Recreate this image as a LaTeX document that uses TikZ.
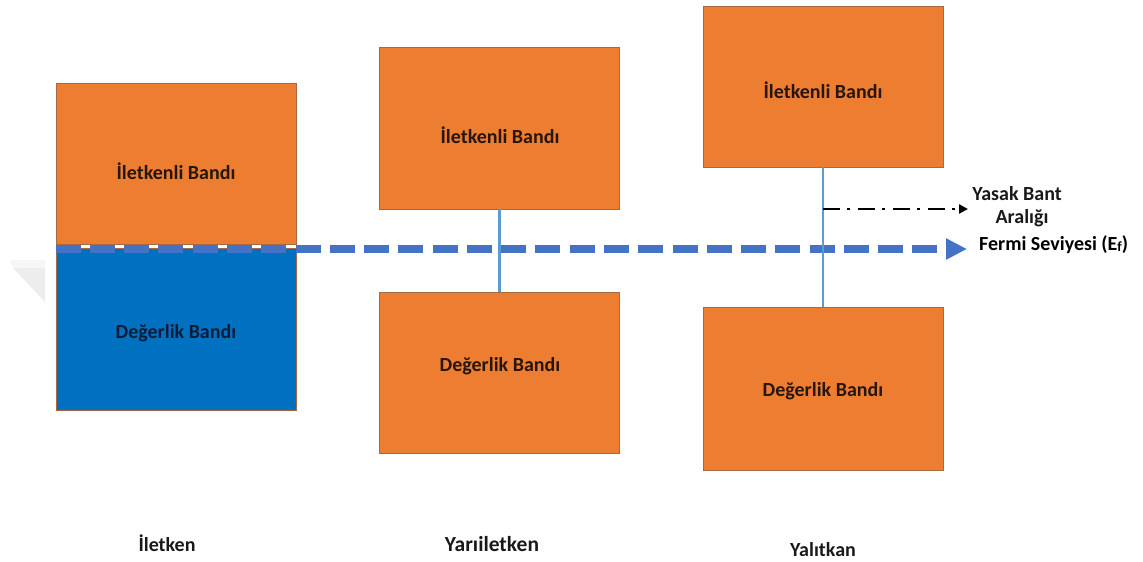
\documentclass[tikz,border=0pt]{standalone}
\usepackage{fontspec}
\setmainfont{Carlito}
\usetikzlibrary{arrows.meta}

\definecolor{bandorange}{HTML}{ED7D31}
\definecolor{bandblue}{HTML}{0070C0}
\definecolor{bandedge}{RGB}{165,105,70}
\definecolor{fermiblue}{HTML}{4472C4}
\definecolor{gapline}{HTML}{5B9BD5}
\definecolor{darktext}{RGB}{38,22,12}
\definecolor{navytext}{RGB}{14,28,58}
\definecolor{markgrey}{HTML}{EDEDED}
\definecolor{marklight}{HTML}{F6F6F6}

\tikzset{
  band/.style={draw=bandedge, line width=0.7pt, inner sep=0pt,
               minimum width=240pt},
  cband/.style={band, fill=bandorange},
  vband/.style={band, fill=bandblue},
  bandlabel/.style={anchor=base, inner sep=0pt, text=darktext,
                    font=\fontsize{20}{24}\selectfont\bfseries},
  sidelabel/.style={anchor=base west, inner sep=0pt, text=black,
                    font=\fontsize{20}{24}\selectfont\bfseries},
  kindlabel/.style={anchor=base, inner sep=0pt, text=black!90,
                    font=\fontsize{20}{24}\selectfont\bfseries},
  fermiline/.style={draw=fermiblue, line width=8.5pt,
                    dash pattern=on 25pt off 9.27pt,
                    -{Triangle[length=21pt,width=20pt]}},
  gapconn/.style={draw=gapline, line width=2.5pt},
  gaparrow/.style={draw=black, line width=2.4pt,
                   dash pattern=on 17pt off 7pt on 3pt off 8pt,
                   -{Triangle[length=9pt,width=9pt]}}
}

\begin{document}
\begin{tikzpicture}[x=1pt, y=-1pt]
\useasboundingbox (0,0) rectangle (1143,562);

% faint corner mark at the left edge
\fill[marklight] (10,260) -- (45,260) -- (45,268) -- (13,268) -- cycle;
\fill[markgrey] (13,268) -- (45,268) -- (45,302) -- cycle;

% conductor: the two bands touch
\node[cband, minimum height=161.5pt] (lc) at (176,163.75) {};
\node[vband, minimum height=161.5pt] (lv) at (176,329.25) {};

% semiconductor: small gap
\node[cband, minimum height=162pt] (mc) at (499.5,128) {};
\node[cband, minimum height=161pt] (mv) at (499.5,372.5) {};

% insulator: wide gap
\node[cband, minimum height=161pt] (rc) at (823,86.5) {};
\node[cband, minimum height=163pt] (rv) at (823,388.5) {};

% band names
\node[bandlabel] (lct) at (176,179.5) {İletkenli Bandı};
\node[bandlabel, text=navytext] (lvt) at (176,338) {Değerlik Bandı};
\node[bandlabel] (mct) at (500,143) {İletkenli Bandı};
\node[bandlabel] (mvt) at (500,371) {Değerlik Bandı};
\node[bandlabel] (rct) at (823,98) {İletkenli Bandı};
\node[bandlabel] (rvt) at (823,396) {Değerlik Bandı};

% Fermi level
\coordinate (fstart) at (lc.west |- 0,249);
\coordinate (fend) at (967,249);
\draw[fermiline] (fstart) -- (fend);
\node[sidelabel] (fermi) at (979,250.5)
  {Fermi Seviyesi (E\raisebox{-1pt}{\fontsize{14}{14}\selectfont f})};

% band gaps
\draw[gapconn] (mc.south) -- (mv.north);
\draw[gapconn] (rc.south) -- (rv.north);

% forbidden gap pointer
\coordinate (gstart) at (rc.south |- 0,209);
\coordinate (gend) at (968,209);
\draw[gaparrow] (gstart) -- (gend);
\node[kindlabel] (gap1) at (1017,200) {Yasak Bant};
\node[kindlabel] (gap2) at (1022,223) {Aralığı};

% material names
\node[kindlabel] (k1) at (167,551.5) {İletken};
\node[kindlabel, font=\fontsize{21.5}{24}\selectfont\bfseries] (k2) at (492,551.5) {Yarıiletken};
\node[kindlabel] (k3) at (823,556.5) {Yalıtkan};
\end{tikzpicture}
\end{document}
